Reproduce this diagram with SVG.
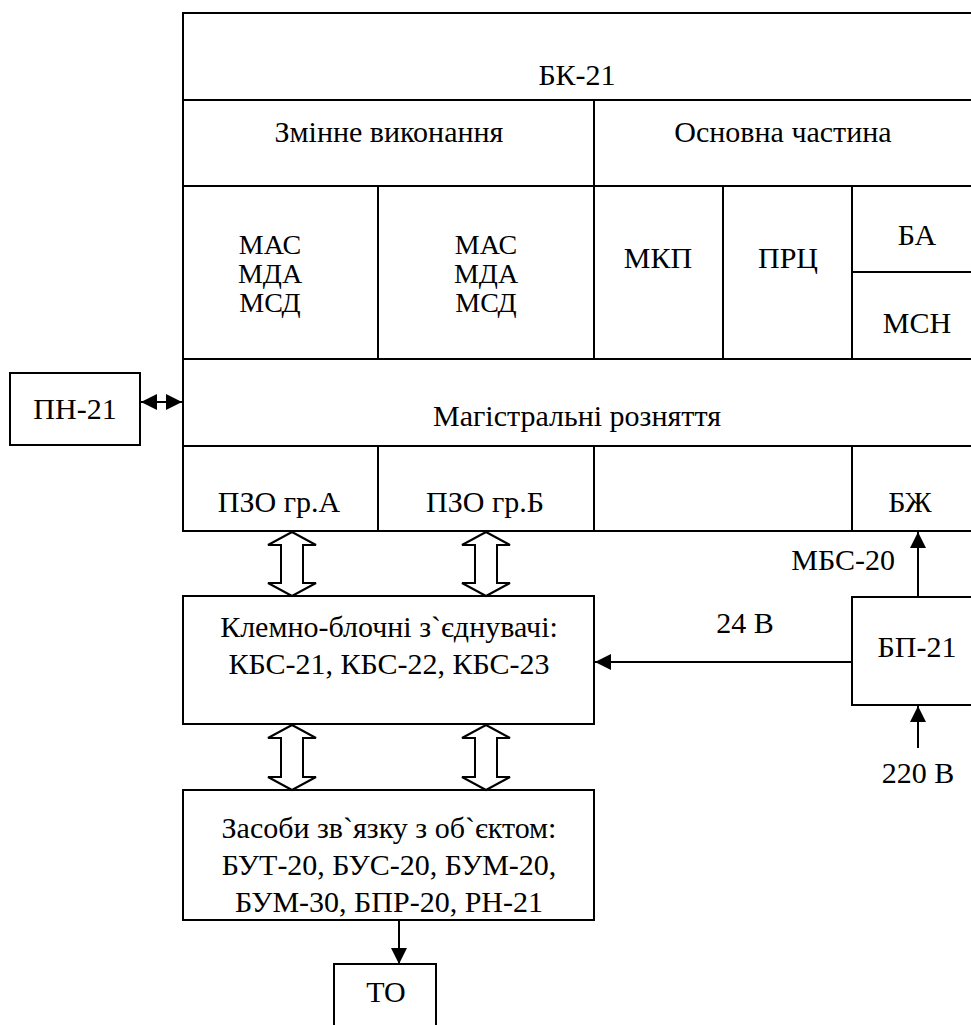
<svg xmlns="http://www.w3.org/2000/svg" width="971" height="1025" viewBox="0 0 971 1025">
<style>
text{font-family:"Liberation Serif",Tinos,"Times New Roman","Noto Serif","DejaVu Serif",FreeSerif,serif;font-size:30px;fill:#000;text-anchor:middle}
.sm{font-size:28px}
.ln{stroke:#000;stroke-width:2;fill:none}
.bx{stroke:#000;stroke-width:2;fill:#fff}
.ha{stroke:#000;stroke-width:2;fill:#fff;stroke-linejoin:miter}
</style>
<defs>
<marker id="ah" viewBox="0 0 16 16" refX="16" refY="8" markerWidth="16" markerHeight="16" markerUnits="userSpaceOnUse" orient="auto-start-reverse">
<path d="M0,0 L16,8 L0,16 Z" fill="#000"/>
</marker>
<path id="dbl" d="M0,0 L24,13 L11,13 L11,51 L24,51 L0,64 L-24,51 L-11,51 L-11,13 L-24,13 Z"/>
<path id="dbl2" d="M0,0 L24,13 L11,13 L11,52 L24,52 L0,65 L-24,52 L-11,52 L-11,13 L-24,13 Z"/>
</defs>

<g id="bk21">
<path class="ln" d="M985,13 H183 V531 H985"/>
<line class="ln" x1="183" y1="100" x2="985" y2="100"/>
<line class="ln" x1="183" y1="186" x2="985" y2="186"/>
<line class="ln" x1="183" y1="359" x2="985" y2="359"/>
<line class="ln" x1="183" y1="446" x2="985" y2="446"/>
<line class="ln" x1="594" y1="100" x2="594" y2="359"/>
<line class="ln" x1="378" y1="186" x2="378" y2="359"/>
<line class="ln" x1="723" y1="186" x2="723" y2="359"/>
<line class="ln" x1="852" y1="186" x2="852" y2="359"/>
<line class="ln" x1="852" y1="272" x2="985" y2="272"/>
<line class="ln" x1="378" y1="446" x2="378" y2="531"/>
<line class="ln" x1="594" y1="446" x2="594" y2="531"/>
<line class="ln" x1="852" y1="446" x2="852" y2="531"/>
<text x="577" y="85">БК-21</text>
<text x="389" y="142">Змінне виконання</text>
<text x="783" y="142">Основна частина</text>
<text class="sm" x="270" y="254">МАС</text>
<text class="sm" x="270" y="283">МДА</text>
<text class="sm" x="270" y="312">МСД</text>
<text class="sm" x="486" y="254">МАС</text>
<text class="sm" x="486" y="283">МДА</text>
<text class="sm" x="486" y="312">МСД</text>
<text x="658" y="268">МКП</text>
<text x="788" y="268">ПРЦ</text>
<text x="917" y="245">БА</text>
<text x="917" y="333">МСН</text>
<text x="577" y="426">Магістральні розняття</text>
<text x="279" y="512">ПЗО гр.А</text>
<text x="485" y="512">ПЗО гр.Б</text>
<text x="910" y="512">БЖ</text>
</g>

<g id="pn21">
<rect class="bx" x="10" y="373" width="130" height="72"/>
<text x="75" y="419">ПН-21</text>
</g>

<g id="kbs">
<rect class="bx" x="183" y="596" width="411" height="128"/>
<text x="389" y="637">Клемно-блочні з`єднувачі:</text>
<text x="389" y="674">КБС-21, КБС-22, КБС-23</text>
</g>

<g id="zasoby">
<rect class="bx" x="183" y="790" width="411" height="130"/>
<text x="389" y="838">Засоби зв`язку з об`єктом:</text>
<text x="389" y="875">БУТ-20, БУС-20, БУМ-20,</text>
<text x="389" y="912">БУМ-30, БПР-20, РН-21</text>
</g>

<g id="to">
<path class="bx" d="M334,1030 V964 H436 V1030"/>
<text x="386" y="1002">ТО</text>
</g>

<g id="bp21">
<path class="bx" d="M985,597 H852 V705 H985"/>
<text x="917" y="657">БП-21</text>
</g>

<g id="connectors">
<line class="ln" x1="141" y1="402" x2="182" y2="402" marker-start="url(#ah)" marker-end="url(#ah)"/>
<use href="#dbl" class="ha" x="292" y="532"/>
<use href="#dbl" class="ha" x="486" y="532"/>
<use href="#dbl2" class="ha" x="292" y="725"/>
<use href="#dbl2" class="ha" x="486" y="725"/>
<line class="ln" x1="399" y1="920" x2="399" y2="964" marker-end="url(#ah)"/>
<line class="ln" x1="918" y1="597" x2="918" y2="532" marker-end="url(#ah)"/>
<line class="ln" x1="852" y1="662" x2="595" y2="662" marker-end="url(#ah)"/>
<line class="ln" x1="918" y1="748" x2="918" y2="706" marker-end="url(#ah)"/>
<text x="895" y="570" style="text-anchor:end">МБС-20</text>
<text x="745" y="633">24 В</text>
<text x="918" y="783">220 В</text>
</g>
</svg>
